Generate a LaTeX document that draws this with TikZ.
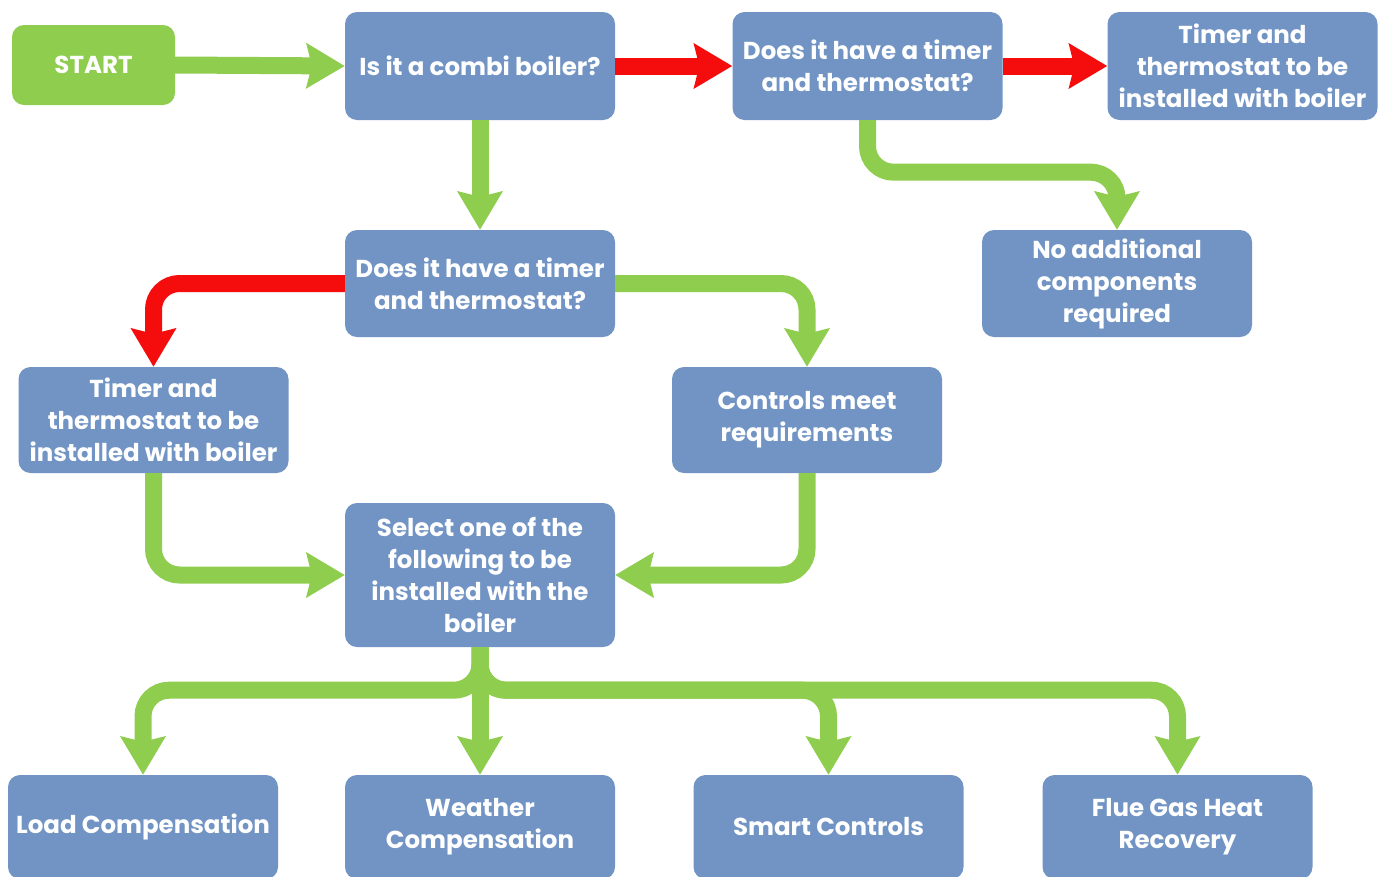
\documentclass[tikz,border=0pt]{standalone}
\usepackage{fontspec}
\setmainfont{Poppins}
\usetikzlibrary{arrows.meta}
\definecolor{boxblue}{HTML}{7194C4}
\definecolor{lgreen}{HTML}{8FCD4F}
\definecolor{ared}{HTML}{F50D0D}
\begin{document}
\begin{tikzpicture}[x=1pt,y=-1pt,
  box/.style={rectangle, rounded corners=12pt, fill=boxblue, text=white,
    minimum width=270pt, minimum height=107pt, align=center, inner sep=2pt,
    font=\fontsize{24.5}{32}\selectfont\bfseries},
  startbox/.style={box, fill=lgreen, minimum width=163pt, minimum height=80pt},
  garrow/.style={draw=lgreen, line width=17pt, rounded corners=26pt,
    -{Stealth[length=38pt,width=44pt,inset=5pt]}},
  rarrow/.style={garrow, draw=ared}]
\clip (0,0) rectangle (1387,876);
\fill[white] (0,0) rectangle (1387,876);

\node[startbox] (start) at (93.5,65) {START};
\node[box, minimum height=108pt] (combi) at (480,66) {Is it a combi boiler?};
\node[box, minimum height=108pt] (dt1) at (867.5,66) {Does it have a timer\\and thermostat?};
\node[box, minimum height=108pt] (t1) at (1242.5,66) {Timer and\\thermostat to be\\installed with boiler};
\node[box] (noadd) at (1117,283.5) {No additional\\components\\required};
\node[box] (dt2) at (480,283.5) {Does it have a timer\\and thermostat?};
\node[box, minimum height=106pt] (t2) at (153.5,420) {Timer and\\thermostat to be\\installed with boiler};
\node[box, minimum height=106pt] (ctrl) at (807,420) {Controls meet\\requirements};
\node[box, minimum height=144pt] (sel) at (480,575) {Select one of the\\following to be\\installed with the\\boiler};
\node[box, minimum height=104pt] (load) at (143,827) {Load Compensation};
\node[box, minimum height=104pt] (weather) at (480,827) {Weather\\Compensation};
\node[box, minimum height=104pt] (smart) at (828.5,827) {Smart Controls};
\node[box, minimum height=104pt] (flue) at (1177.5,827) {Flue Gas Heat\\Recovery};

\draw[garrow] (start.east) -- (combi.west);
\draw[rarrow] (combi.east) -- (dt1.west);
\draw[rarrow] (dt1.east) -- (t1.west);
\draw[garrow] (combi.south) -- (dt2.north);
\draw[garrow] (dt1.south) -- ++(0,52) -| (noadd.north);
\draw[rarrow] (dt2.west) -| (t2.north);
\draw[garrow] (dt2.east) -| (ctrl.north);
\draw[garrow] (t2.south) |- (sel.west);
\draw[garrow] (ctrl.south) |- (sel.east);
\draw[garrow] (sel.south) -- (weather.north);
\draw[garrow] (sel.south) -- ++(0,43) -| (load.north);
\draw[garrow] (sel.south) -- ++(0,43) -| (smart.north);
\draw[garrow] (sel.south) -- ++(0,43) -| (flue.north);
\end{tikzpicture}
\end{document}
